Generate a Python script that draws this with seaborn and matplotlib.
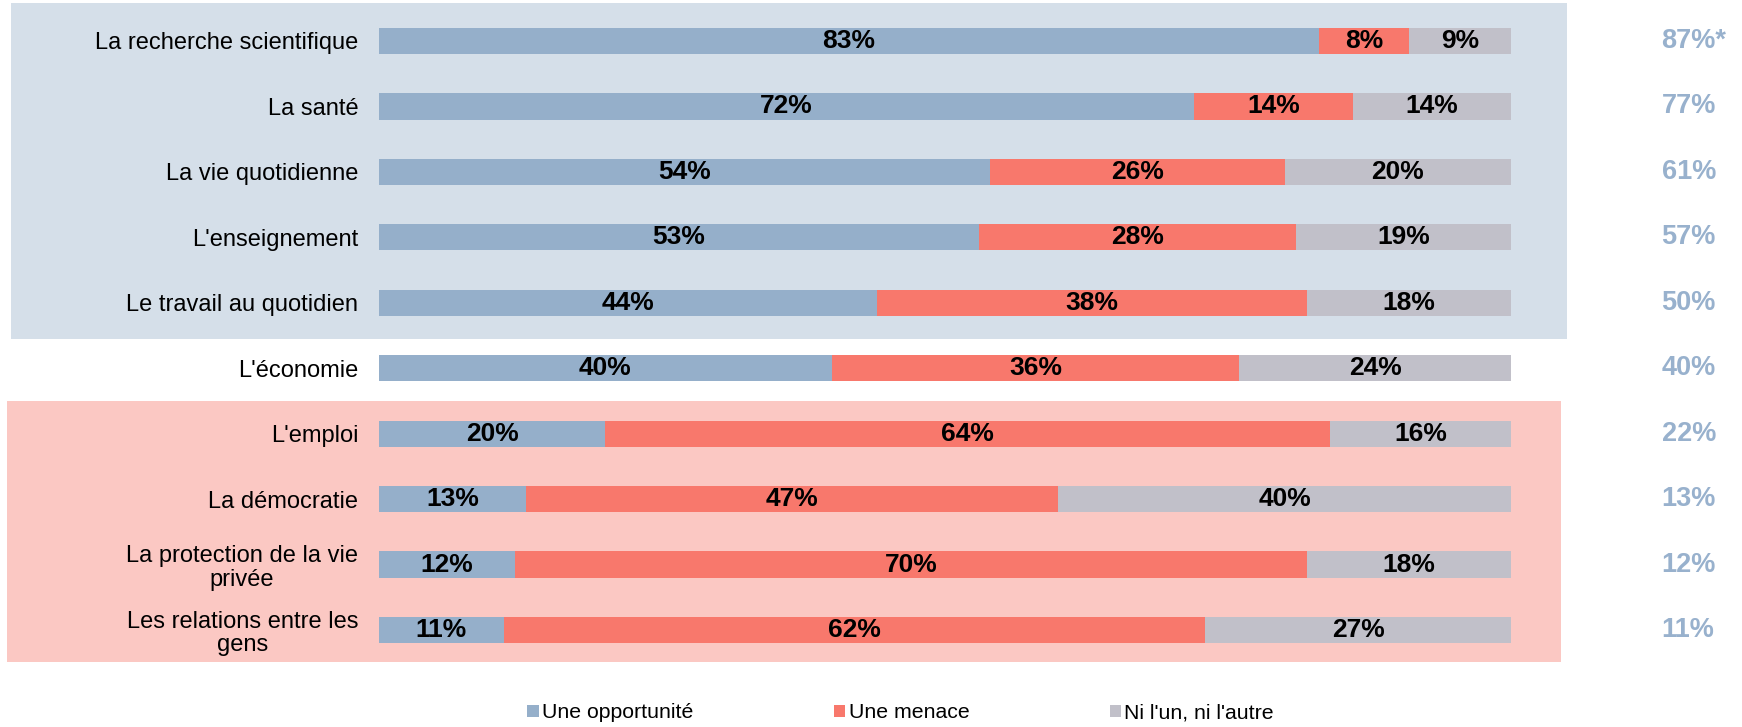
import numpy as np
import pandas as pd
import matplotlib
matplotlib.use("Agg")
import matplotlib.pyplot as plt
from matplotlib.patches import Rectangle, Patch
import seaborn as sns

categories = ["La recherche scientifique", "La santé", "La vie quotidienne",
              "L'enseignement", "Le travail au quotidien", "L'économie",
              "L'emploi", "La démocratie", "La protection de la vie\nprivée",
              "Les relations entre les\ngens"]
opportunite = [83, 72, 54, 53, 44, 40, 20, 13, 12, 11]
menace = [8, 14, 26, 28, 38, 36, 64, 47, 70, 62]
ni_lun = [9, 14, 20, 19, 18, 24, 16, 40, 18, 27]
net_labels = ["87%*", "77%", "61%", "57%", "50%", "40%", "22%", "13%", "12%", "11%"]
series_names = ["Une opportunité", "Une menace", "Ni l'un, ni l'autre"]

BLUE = "#95AFCA"
RED = "#F8786C"
GREY = "#C1C0C9"
BG_BLUE = "#D5DFE9"
BG_PINK = "#FBC8C3"
NET_COL = "#98B1CD"

sns.set_theme(style="white")
plt.rcParams["font.family"] = ["Liberation Sans", "DejaVu Sans"]
plt.rcParams["text.color"] = "black"
plt.rcParams["ytick.color"] = "black"

df = pd.DataFrame({"cat": categories, "opp": opportunite, "men": menace, "ni": ni_lun})
df["c1"] = df["opp"]
df["c2"] = df["opp"] + df["men"]
df["c3"] = df["c2"] + df["ni"]

W, H = 1742, 727
fig = plt.figure(figsize=(W / 100, H / 100), dpi=100)

# background bands (figure pixel coords)
def band(x0, y0, x1, y1, color):
    fig.add_artist(Rectangle((x0 / W, 1 - y1 / H), (x1 - x0) / W, (y1 - y0) / H,
                             transform=fig.transFigure, facecolor=color,
                             edgecolor="none", zorder=0))

band(11, 3, 1567, 339, BG_BLUE)
band(7, 401, 1561, 662, BG_PINK)

ax = fig.add_axes([379 / W, 1 - 662.75 / H, 1132 / W, 654.5 / H])
ax.patch.set_alpha(0)

# stacked bars drawn as overlapping cumulative layers
for col, color in [("c3", GREY), ("c2", RED), ("c1", BLUE)]:
    sns.barplot(data=df, x=col, y="cat", color=color, orient="h", width=0.4,
                saturation=1, ax=ax, linewidth=0)

ax.set_xlim(0, 100)
ax.set_ylim(9.5, -0.5)
ax.set_xlabel("")
ax.set_ylabel("")
ax.set_xticks([])
ax.tick_params(axis="y", length=0, pad=15, labelsize=17, labelcolor="black")
for lab in ax.get_yticklabels():
    lab.set_multialignment("center")
    lab.set_linespacing(1.1)
for s in ax.spines.values():
    s.set_visible(False)

for i in range(len(categories)):
    starts = [0, opportunite[i], opportunite[i] + menace[i]]
    vals = [opportunite[i], menace[i], ni_lun[i]]
    for st, v in zip(starts, vals):
        ax.text(st + v / 2, i, f"{v}%", ha="center", va="center",
                fontsize=19, fontweight="bold", color="black")
    ax.text(113.3, i, net_labels[i], ha="left", va="center", fontsize=19.5,
            fontweight="bold", color=NET_COL, clip_on=False)

handles = [Patch(facecolor=c, edgecolor="none") for c in (BLUE, RED, GREY)]
fig.legend(handles, series_names, loc="center", bbox_to_anchor=(0.517, 1 - 713 / H),
           ncol=3, frameon=False, fontsize=15.3, handlelength=0.55, handleheight=0.55,
           handletextpad=0.15, columnspacing=6.6, labelcolor="black")

fig.savefig("out.png", dpi=100)
